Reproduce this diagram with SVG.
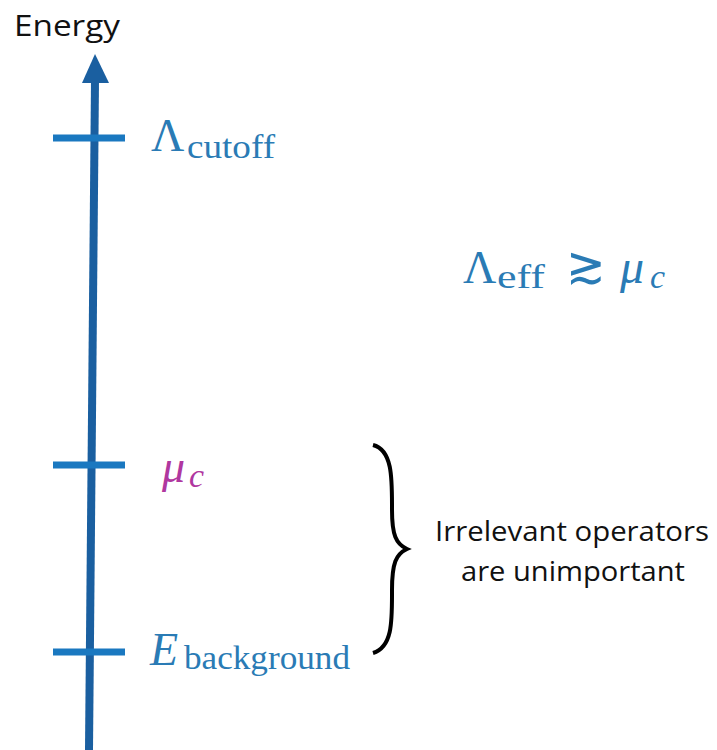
<svg xmlns="http://www.w3.org/2000/svg" width="717" height="750" viewBox="0 0 717 750">
<defs>
<style>
.tick{stroke:#1a78c0;stroke-width:7;stroke-linecap:butt}
.ser{font-family:"Liberation Serif","DejaVu Serif",serif;fill:#2a7bb5}
.sans{font-family:"Open Sans","Liberation Sans",sans-serif;fill:#111}
</style>
</defs>
<rect width="717" height="750" fill="#fff"/>
<text class="sans" x="14" y="36" font-size="29" textLength="106" lengthAdjust="spacingAndGlyphs">Energy</text>
<g id="connectors">
<line x1="89" y1="750" x2="95" y2="80" stroke="#1a5fa0" stroke-width="8"/>
<polygon points="95,54 82,83 109,83" fill="#1a5fa0"/>
</g>
<g id="tick-cutoff"><line class="tick" x1="53" y1="138" x2="125" y2="138"/>
<text class="ser" x="151" y="151" font-size="46">Λ</text>
<text class="ser" x="187" y="158" font-size="33" textLength="88" lengthAdjust="spacingAndGlyphs">cutoff</text></g>
<g id="tick-mu"><line class="tick" x1="53" y1="465" x2="125" y2="465"/>
<text x="162" y="482" font-size="46" font-style="italic" fill="#b0379f" font-family="Liberation Serif,serif">μ</text>
<text x="189" y="487" font-size="34" font-style="italic" fill="#b0379f" font-family="Liberation Serif,serif">c</text></g>
<g id="tick-E"><line class="tick" x1="53" y1="652" x2="125" y2="652"/>
<text class="ser" x="150" y="665" font-size="46" font-style="italic">E</text>
<text class="ser" x="184" y="669" font-size="33" textLength="166" lengthAdjust="spacingAndGlyphs">background</text></g>
<g id="relation">
<text class="ser" x="463" y="283" font-size="46">Λ</text>
<text class="ser" x="497" y="288" font-size="33" textLength="48" lengthAdjust="spacingAndGlyphs">eff</text>
<text class="ser" x="566" y="283" font-size="52" textLength="40" lengthAdjust="spacingAndGlyphs">≳</text>
<text class="ser" x="620" y="283" font-size="48" font-style="italic">μ</text>
<text class="ser" x="650" y="288" font-size="34" font-style="italic">c</text>
</g>
<g id="brace">
<path d="M373,445 C393,450 392,480 392,510 C392,535 396,544 407,549 C396,554 392,563 392,590 C392,620 393,647 373,653" fill="none" stroke="#000" stroke-width="4"/>
</g>
<g id="note">
<text class="sans" x="572" y="541" font-size="28" text-anchor="middle" textLength="274" lengthAdjust="spacingAndGlyphs">Irrelevant operators</text>
<text class="sans" x="573" y="581" font-size="28" text-anchor="middle" textLength="224" lengthAdjust="spacingAndGlyphs">are unimportant</text>
</g>
</svg>
